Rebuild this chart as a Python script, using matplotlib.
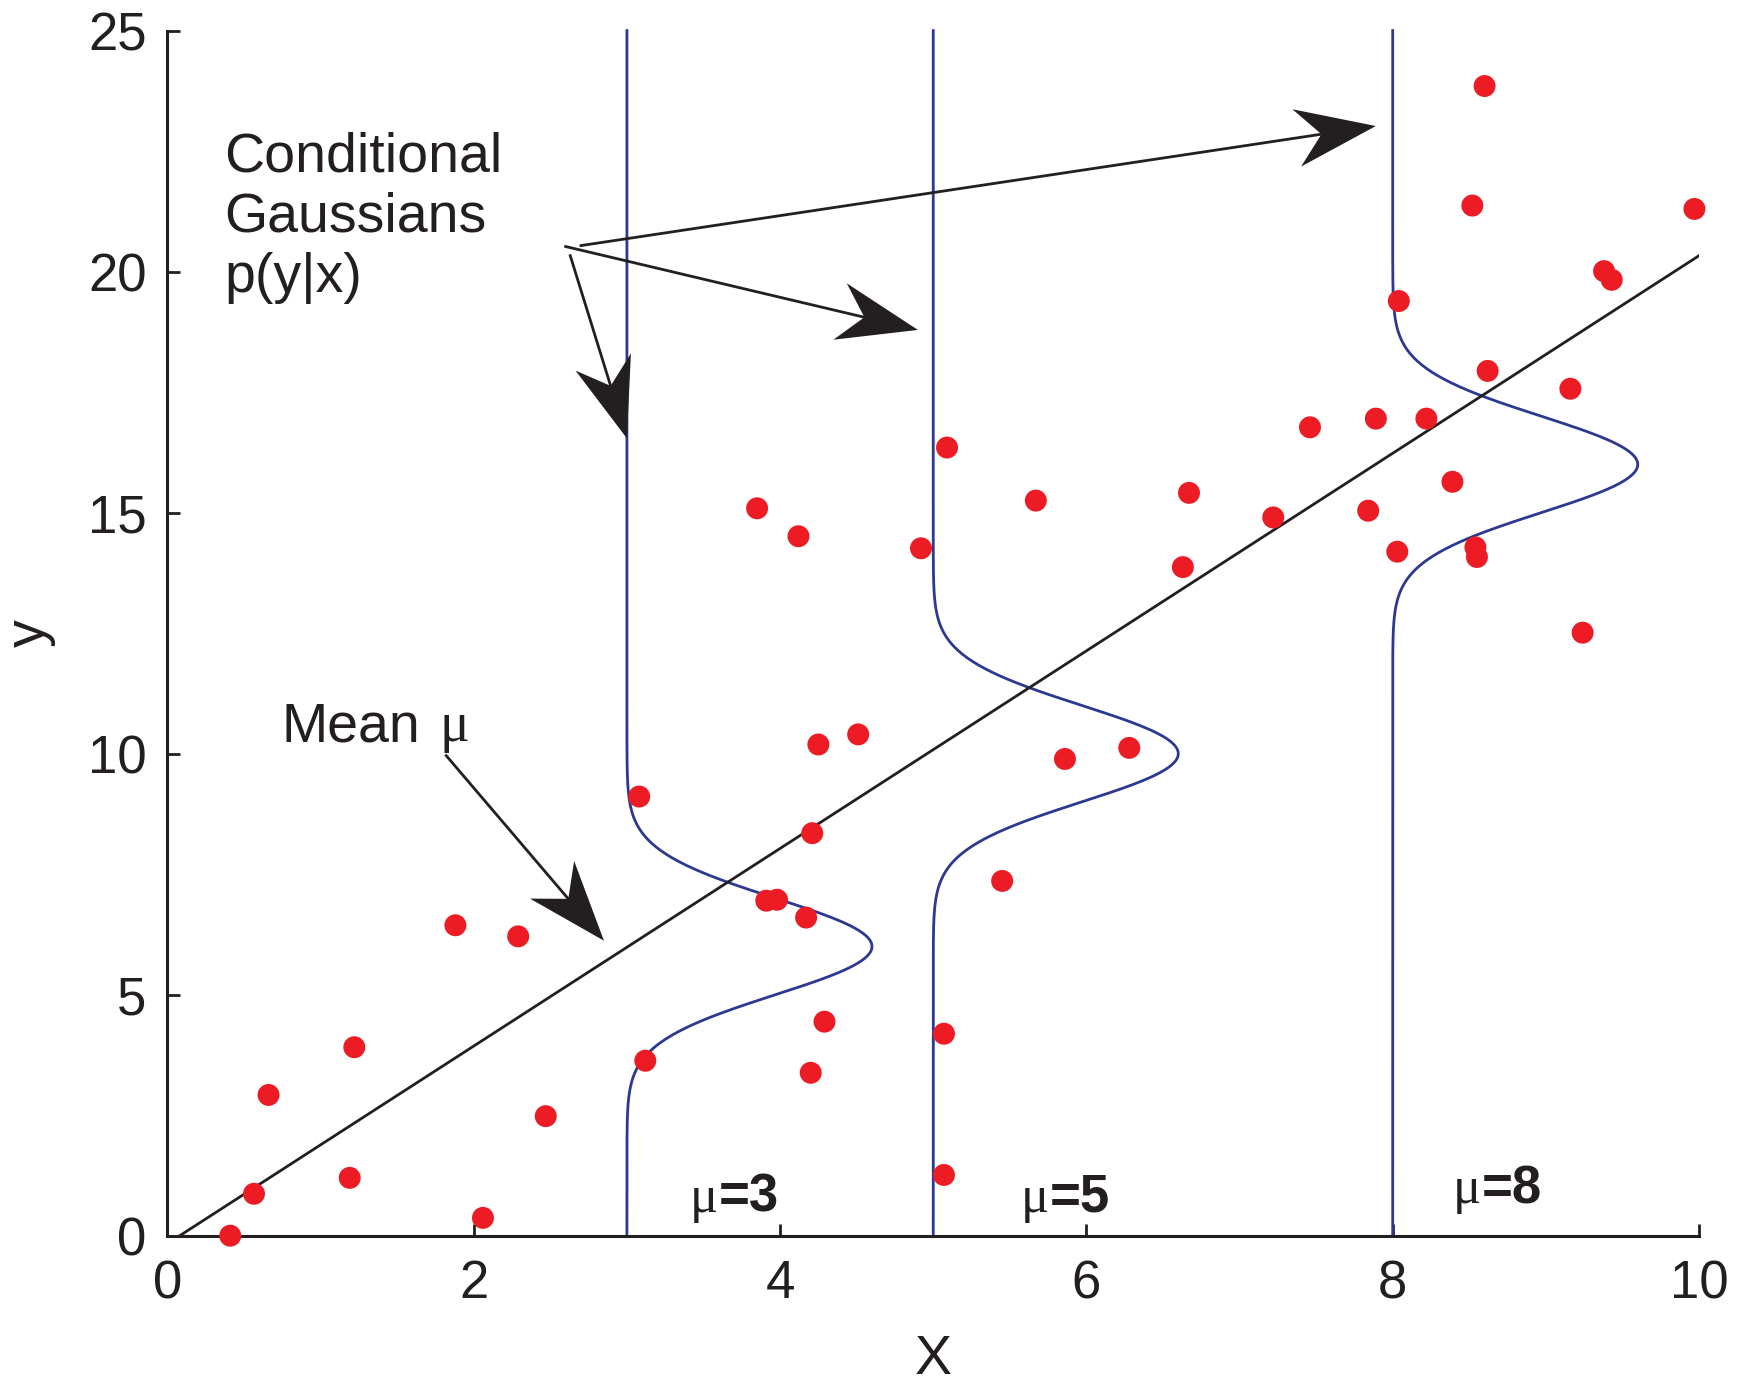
import numpy as np
import matplotlib
matplotlib.use("Agg")
import matplotlib.pyplot as plt
from matplotlib.patches import Polygon

plt.rcParams['font.family'] = ['Liberation Sans', 'DejaVu Sans']

# observed (x, y) samples
x_pts = [0.41, 0.565, 0.66, 1.19, 1.22, 1.88, 2.06, 2.29, 2.47, 3.08,
         3.12, 3.85, 3.91, 3.98, 4.12, 4.17, 4.21, 4.25, 4.20, 4.29,
         4.51, 4.92, 5.07, 5.07, 5.09, 5.45, 5.67, 5.86, 6.28, 6.63,
         6.67, 7.22, 7.46, 7.84, 7.89, 8.03, 8.04, 8.22, 8.39, 8.52,
         8.54, 8.55, 8.60, 8.62, 9.16, 9.24, 9.38, 9.43, 9.97]
y_pts = [0.0, 0.87, 2.92, 1.2, 3.91, 6.44, 0.37, 6.21, 2.48, 9.11,
         3.63, 15.09, 6.95, 6.97, 14.51, 6.6, 8.35, 10.19, 3.38, 4.44,
         10.4, 14.26, 4.19, 1.26, 16.35, 7.36, 15.25, 9.89, 10.12, 13.87,
         15.41, 14.9, 16.77, 15.04, 16.95, 14.19, 19.39, 16.95, 15.64, 21.37,
         14.28, 14.08, 23.85, 17.94, 17.57, 12.51, 20.01, 19.83, 21.3]

# regression line end points
mean_x = [0.08, 10.0]
mean_y = [0.0, 20.33]

# conditional gaussians: column position, centre on y, height, spread
cond_x = [3, 5, 8]
cond_mu = [6, 10, 16]
cond_height = 1.6
cond_sigma = 1.0
cond_labels = ["3", "5", "8"]
cond_label_pos = [(3.41, 0.5), (5.57, 0.5), (8.39, 0.67)]

blue = "#2b3990"
red = "#ed1c24"
ink = "#231f20"

fig = plt.figure(figsize=(17.39, 13.9), dpi=100)
ax = fig.add_axes([0.0963, 0.111, 0.8807, 0.867])
ax.set_xlim(0, 10)
ax.set_ylim(0, 25)

yy = np.linspace(0, 25, 1000)
for cx, mu in zip(cond_x, cond_mu):
    xx = cx + cond_height * np.exp(-(yy - mu) ** 2 / (2 * cond_sigma ** 2))
    ax.plot(xx, yy, color=blue, lw=2, clip_on=False, zorder=2)

ax.plot(mean_x, mean_y, color=ink, lw=2, zorder=2)
ax.scatter(x_pts, y_pts, s=250, color=red, edgecolors="none", zorder=3,
           clip_on=False)

for sp in ["top", "right"]:
    ax.spines[sp].set_visible(False)
for sp in ["left", "bottom"]:
    ax.spines[sp].set_linewidth(2.2)
    ax.spines[sp].set_color(ink)

ax.set_xticks(range(0, 11, 2))
ax.set_yticks(range(0, 26, 5))
ax.tick_params(direction="in", length=9, width=2, labelsize=38,
               colors=ink)
ax.tick_params(axis="x", pad=17)
ax.tick_params(axis="y", pad=15)
ax.set_xlabel("X", fontsize=40, color=ink, labelpad=18)
ax.set_ylabel("y", fontsize=40, color=ink, labelpad=23)


def arrow(x0, y0, x1, y1, head_len=80, half_w=29, notch=25):
    # shaft plus a swept-back arrow head, sized in pixels
    to_px = ax.transData
    p0 = np.array(to_px.transform((x0, y0)))
    p1 = np.array(to_px.transform((x1, y1)))
    d = (p1 - p0) / np.linalg.norm(p1 - p0)
    n = np.array([-d[1], d[0]])
    base = p1 - head_len * d
    inner = p1 - (head_len - notch) * d
    head = np.array([p1, base + half_w * n, inner, base - half_w * n])
    inv = to_px.inverted()
    q = inv.transform(np.array([p0, inner + 4 * d]))
    ax.plot(q[:, 0], q[:, 1], color=ink, lw=2, clip_on=False, zorder=4)
    ax.add_patch(Polygon(inv.transform(head), closed=True, color=ink,
                         lw=0, clip_on=False, zorder=4))


arrow(2.70, 20.54, 7.89, 23.02)
arrow(2.60, 20.52, 4.90, 18.79)
arrow(2.63, 20.33, 3.00, 16.54)
arrow(1.82, 9.96, 2.85, 6.12)

ax.text(0.37, 19.58, "Conditional\nGaussians\np(y|x)", fontsize=40,
        color=ink, va="baseline", linespacing=1.2)
ax.text(0.745, 10.26, "Mean", fontsize=40, color=ink, va="baseline")
ax.annotate("μ", xy=(0.745, 10.26), xytext=(114, 0),
            textcoords="offset points", fontsize=40, color=ink,
            va="baseline", family="Liberation Serif")

for lab, (lx, ly) in zip(cond_labels, cond_label_pos):
    ax.text(lx, ly, "μ", fontsize=38, color=ink, va="baseline",
            family="Liberation Serif")
    ax.annotate("=" + lab, xy=(lx, ly), xytext=(21, 0),
                textcoords="offset points", fontsize=38, fontweight="bold",
                color=ink, va="baseline")

fig.savefig("out.png", dpi=100)
